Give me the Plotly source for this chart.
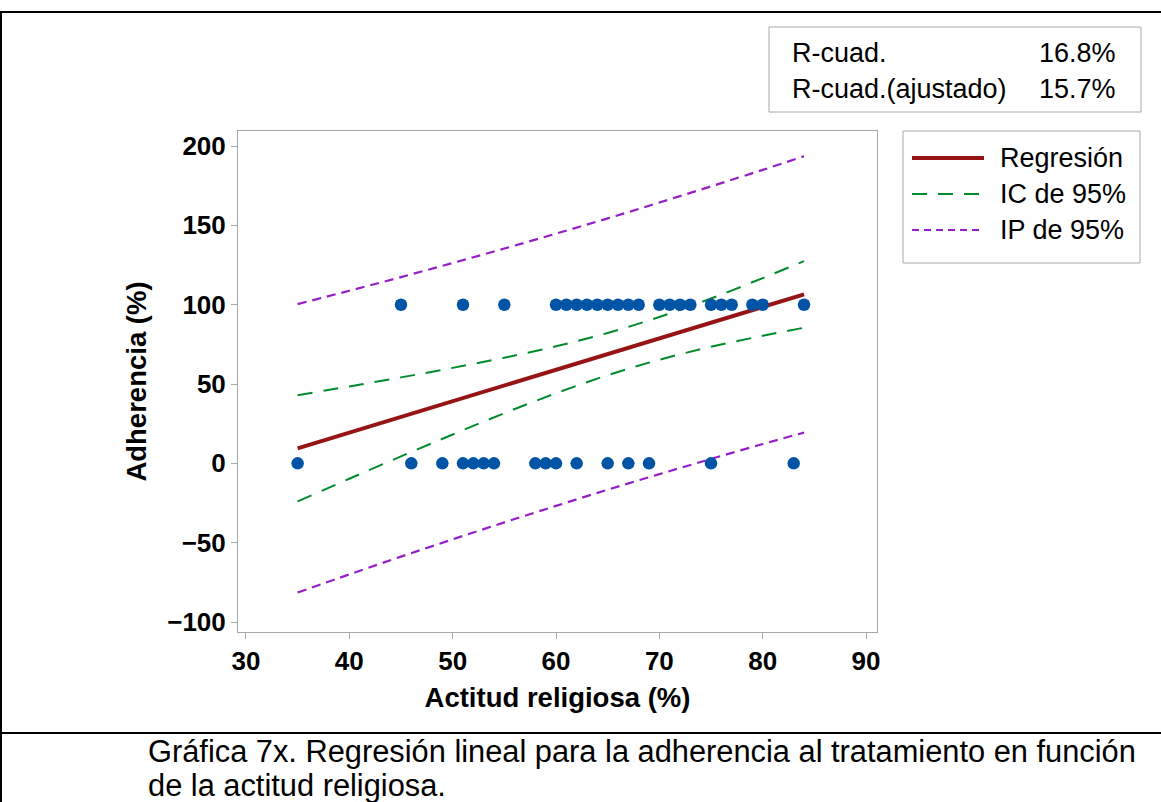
import plotly.graph_objects as go

# ---------------- data ----------------
actitud_adh100 = [45, 51, 55, 60, 61, 62, 63, 64, 65, 66, 67, 68,
                  70, 71, 72, 73, 75, 76, 77, 79, 80, 84]
actitud_adh0 = [35, 46, 49, 51, 52, 53, 54, 58, 59, 60, 62, 65, 67, 69, 75, 83]

curve_x = [35, 40, 45, 50, 55, 60, 65, 70, 75, 80, 84]
fit_y = [9.5, 19.4, 29.3, 39.2, 49.1, 59.0, 68.9, 78.8, 88.7, 98.6, 106.5]
ci_upper = [43.0, 48.5, 54.2, 60.2, 66.6, 73.8, 82.2, 92.3, 103.9, 116.8, 127.5]
ci_lower = [-24.0, -9.7, 4.4, 18.2, 31.6, 44.2, 55.6, 65.3, 73.5, 80.4, 85.5]
pi_upper = [100.4, 108.8, 117.4, 126.3, 135.4, 144.8, 154.4, 164.4, 174.6, 185.0, 193.6]
pi_lower = [-81.4, -70.0, -58.8, -47.9, -37.2, -26.8, -16.6, -6.8, 2.8, 12.2, 19.4]

x_ticks = [30, 40, 50, 60, 70, 80, 90]
y_ticks = [-100, -50, 0, 50, 100, 150, 200]

stats_labels = ["R-cuad.", "R-cuad.(ajustado)"]
stats_values = ["16.8%", "15.7%"]
legend_labels = ["Regresión", "IC de 95%", "IP de 95%"]
caption_lines = ["Gráfica 7x. Regresión lineal para la adherencia al tratamiento en función",
                 "de la actitud religiosa."]

# ---------------- styles ----------------
FONT = "Liberation Sans, Arial, sans-serif"
RED = "rgb(150,20,20)"
GREEN = "rgb(0,140,45)"
PURPLE = "rgb(150,30,200)"
BLUE = "rgb(0,84,166)"
GRAY = "#a8a8a8"
DASH_CI = "15px,11px"
DASH_PI = "9px,6px"

W, H = 1161, 802
L, R, T, B = 238, 877, 131, 632   # plot area in pixels


def px(xp):
    return (xp - L) / (R - L)


def py(yp):
    return (B - yp) / (B - T)


fig = go.Figure()

fig.add_trace(go.Scatter(x=curve_x, y=pi_upper, mode="lines", line_shape="spline",
                         line=dict(color=PURPLE, width=2.2, dash=DASH_PI), showlegend=False))
fig.add_trace(go.Scatter(x=curve_x, y=pi_lower, mode="lines", line_shape="spline",
                         line=dict(color=PURPLE, width=2.2, dash=DASH_PI), showlegend=False))
fig.add_trace(go.Scatter(x=curve_x, y=ci_upper, mode="lines", line_shape="spline",
                         line=dict(color=GREEN, width=2, dash=DASH_CI), showlegend=False))
fig.add_trace(go.Scatter(x=curve_x, y=ci_lower, mode="lines", line_shape="spline",
                         line=dict(color=GREEN, width=2, dash=DASH_CI), showlegend=False))
fig.add_trace(go.Scatter(x=curve_x, y=fit_y, mode="lines",
                         line=dict(color=RED, width=4), showlegend=False))

pts_x = actitud_adh100 + actitud_adh0
pts_y = [100] * len(actitud_adh100) + [0] * len(actitud_adh0)
fig.add_trace(go.Scatter(x=pts_x, y=pts_y, mode="markers",
                         marker=dict(color=BLUE, size=12.5, line=dict(width=0)),
                         showlegend=False))

shapes = []
annotations = []

# outer frame and caption separator
shapes.append(dict(type="line", xref="paper", yref="paper", x0=px(0), x1=px(W),
                   y0=py(12), y1=py(12), line=dict(color="black", width=2)))
shapes.append(dict(type="line", xref="paper", yref="paper", x0=px(1), x1=px(1),
                   y0=py(12), y1=py(H + 5), line=dict(color="black", width=2)))
shapes.append(dict(type="line", xref="paper", yref="paper", x0=px(0), x1=px(W),
                   y0=py(733), y1=py(733), line=dict(color="black", width=2)))

# stats box
shapes.append(dict(type="rect", xref="paper", yref="paper", x0=px(769), x1=px(1141),
                   y0=py(112), y1=py(27), line=dict(color=GRAY, width=1),
                   fillcolor="white"))
for i, (lab, val) in enumerate(zip(stats_labels, stats_values)):
    yc = py(53 + 36 * i)
    annotations.append(dict(xref="paper", yref="paper", x=px(790), y=yc, text=lab,
                            showarrow=False, xanchor="left", yanchor="middle",
                            font=dict(family=FONT, size=27, color="black")))
    annotations.append(dict(xref="paper", yref="paper", x=px(1118), y=yc, text=val,
                            showarrow=False, xanchor="right", yanchor="middle",
                            font=dict(family=FONT, size=27, color="black")))

# legend box (drawn manually to match the long sample lines)
shapes.append(dict(type="rect", xref="paper", yref="paper", x0=px(903), x1=px(1140),
                   y0=py(263), y1=py(131), line=dict(color=GRAY, width=1),
                   fillcolor="white"))
leg_styles = [dict(color=RED, width=4), dict(color=GREEN, width=2, dash=DASH_CI),
              dict(color=PURPLE, width=2, dash="7px,5px")]
for i, (lab, st) in enumerate(zip(legend_labels, leg_styles)):
    yc = 158 + 36 * i
    shapes.append(dict(type="line", xref="paper", yref="paper", x0=px(912), x1=px(984),
                       y0=py(yc), y1=py(yc), line=st))
    annotations.append(dict(xref="paper", yref="paper", x=px(998), y=py(yc), text=lab,
                            showarrow=False, xanchor="left", yanchor="middle",
                            font=dict(family=FONT, size=27, color="black")))

# caption
for i, line in enumerate(caption_lines):
    annotations.append(dict(xref="paper", yref="paper", x=px(146), y=py(751 + 34 * i),
                            text=line, showarrow=False, xanchor="left", yanchor="middle",
                            font=dict(family=FONT, size=30.8, color="black")))

fig.update_layout(
    width=W, height=H, autosize=False,
    margin=dict(l=L, r=W - R, t=T, b=H - B, pad=0),
    paper_bgcolor="white", plot_bgcolor="white",
    font=dict(family=FONT, color="black"),
    showlegend=False,
    shapes=shapes, annotations=annotations,
)
fig.update_xaxes(
    range=[29.23, 91.06], tickvals=x_ticks, ticks="outside", ticklen=6, tickcolor=GRAY,
    showline=True, linecolor=GRAY, linewidth=1, mirror=True, showgrid=False, zeroline=False,
    tickfont=dict(family=FONT, size=26, color="black", weight="bold"),
    title=dict(text="Actitud religiosa (%)", standoff=12,
               font=dict(family=FONT, size=27.5, color="black", weight="bold")),
)
fig.update_yaxes(
    range=[-106.3, 209.5], tickvals=y_ticks, ticks="outside", ticklen=6, tickcolor=GRAY,
    showline=True, linecolor=GRAY, linewidth=1, mirror=True, showgrid=False, zeroline=False,
    tickfont=dict(family=FONT, size=26, color="black", weight="bold"),
    title=dict(text="Adherencia (%)", standoff=12,
               font=dict(family=FONT, size=27.5, color="black", weight="bold")),
)

fig.write_html("out.html", config={"displayModeBar": False},
               post_script="document.body.style.margin='0';document.body.style.overflow='hidden';")
